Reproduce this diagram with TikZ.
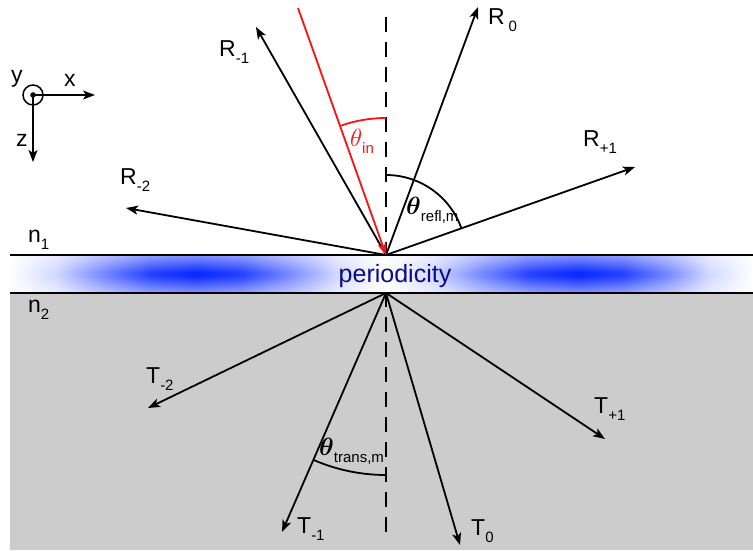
\documentclass[tikz,border=0pt]{standalone}
\usepackage{amsmath}
\usepackage{fontspec}
\setmainfont{Liberation Sans}
\usepackage{tikz}
\usetikzlibrary{arrows.meta,fadings}
\definecolor{RayRed}{HTML}{FF1010}
\definecolor{GratingBlue}{HTML}{0A2AFF}
\definecolor{LabelNavy}{HTML}{0A0A8C}
\definecolor{SubstrateGray}{gray}{0.8}
\pgfdeclarehorizontalshading{gratingwave}{100bp}{%
  color(0bp)=(white);
  color(25bp)=(white);
  color(28.1bp)=(GratingBlue!18!white);
  color(31.25bp)=(GratingBlue!55!white);
  color(34.4bp)=(GratingBlue!88!white);
  color(37.5bp)=(GratingBlue);
  color(40.6bp)=(GratingBlue!88!white);
  color(43.75bp)=(GratingBlue!55!white);
  color(47bp)=(GratingBlue!18!white);
  color(50.25bp)=(white);
  color(53.5bp)=(GratingBlue!18!white);
  color(56.75bp)=(GratingBlue!55!white);
  color(60bp)=(GratingBlue!88!white);
  color(63.25bp)=(GratingBlue);
  color(66.25bp)=(GratingBlue!88!white);
  color(69.25bp)=(GratingBlue!55!white);
  color(72bp)=(GratingBlue!18!white);
  color(75bp)=(white);
  color(100bp)=(white)}
\newcommand{\lowidx}[1]{\raisebox{-7pt}{\fontsize{15}{15}\selectfont #1}}
\tikzset{
  figure/.style={x=1pt,y=1pt,font=\fontsize{23}{27}\selectfont,>={Stealth[length=12pt,width=9pt,inset=3pt]}},
  ray/.style={->,line width=1.8pt},
  inray/.style={ray,draw=RayRed},
  normalline/.style={line width=1.8pt,dash pattern=on 15pt off 10pt},
  interface/.style={line width=1.8pt},
  angarc/.style={line width=1.8pt},
  lbl/.style={anchor=base west,inner sep=0pt},
}

\begin{document}
\begin{tikzpicture}[figure]
  \useasboundingbox (0,0) rectangle (753,550);

  % substrate and grating layer
  \fill[SubstrateGray] (10,0) rectangle (753,257);
  \coordinate (O) at (386,295);
  \coordinate (Ob) at (386,257);
  \coordinate (ntop) at (386,533);
  \coordinate (nbot) at (386,15);
  \draw[normalline] (ntop) -- (nbot);
  \shade[shading=gratingwave] (10,257) rectangle (753,295);
  \fill[white,opacity=0.5,path fading=south] (10,278) rectangle (753,295);
  \fill[white,opacity=0.5,path fading=north] (10,257) rectangle (753,274);
  \draw[interface] (10,295) -- (753,295);
  \draw[interface] (10,257) -- (753,257);
  \node[anchor=base,inner sep=0pt,text=LabelNavy,font=\fontsize{25}{30}\selectfont]
    (grating) at (395,268) {periodicity};

  \node[lbl] (n1) at (28,308) {n\lowidx{1}};
  \node[lbl] (n2) at (28,238) {n\lowidx{2}};

  % reflected orders
  \coordinate (src) at (298,542);
  \coordinate (Rm2) at (126,342);
  \coordinate (Rm1) at (256,523);
  \coordinate (R0) at (478,543);
  \coordinate (Rp1) at (635,383);
  \draw[ray] (O) -- (Rm2);
  \draw[ray] (O) -- (Rm1);
  \draw[ray] (O) -- (R0);
  \draw[ray] (O) -- (Rp1);
  \draw[inray] (src) -- (O);
  \node[lbl] (lRm2) at (120,365) {R\lowidx{-2}};
  \node[lbl] (lRm1) at (219,493) {R\lowidx{-1}};
  \node[lbl] (lR0) at (488,525) {R\,\lowidx{0}};
  \node[lbl] (lRp1) at (583,403) {R\lowidx{+1}};

  % transmitted orders
  \coordinate (Tm2) at (148,142);
  \coordinate (Tm1) at (282,18);
  \coordinate (T0) at (460,5);
  \coordinate (Tp1) at (605,111);
  \draw[ray] (Ob) -- (Tm2);
  \draw[ray] (Ob) -- (Tm1);
  \draw[ray] (Ob) -- (T0);
  \draw[ray] (Ob) -- (Tp1);
  \node[lbl] (lTm2) at (146,167) {T\lowidx{-2}};
  \node[lbl] (lTm1) at (297,17) {T\lowidx{-1}};
  \node[lbl] (lT0) at (471,15) {T\lowidx{0}};
  \node[lbl] (lTp1) at (594,137) {T\lowidx{+1}};

  % angles
  \draw[angarc,draw=RayRed] (O) ++(90:137) arc[start angle=90,end angle=109.6,radius=137];
  \draw[angarc] (O) ++(90:80) arc[start angle=90,end angle=19.5,radius=80];
  \draw[angarc] (Ob) ++(270:182) arc[start angle=270,end angle=246.5,radius=182];
  \node[lbl,text=RayRed] (thin) at (350,403) {$\theta$\lowidx{in}};
  \node[lbl] (threfl) at (406,335) {$\boldsymbol{\theta}$\lowidx{refl,m}};
  \node[lbl] (thtrans) at (319,95) {$\boldsymbol{\theta}$\lowidx{trans,m}};

  % axes
  \coordinate (ax) at (33,455);
  \coordinate (axx) at (95,455);
  \coordinate (axz) at (33,388);
  \draw[line width=1.5pt] (ax) circle[radius=10];
  \fill (ax) circle[radius=2.8];
  \draw[ray,line width=1.5pt] (ax) -- (axx);
  \draw[ray,line width=1.5pt] (ax) -- (axz);
  \node[lbl] (ly) at (11,467) {y};
  \node[lbl] (lx) at (64,463) {x};
  \node[lbl] (lz) at (16,403) {z};
\end{tikzpicture}
\end{document}
